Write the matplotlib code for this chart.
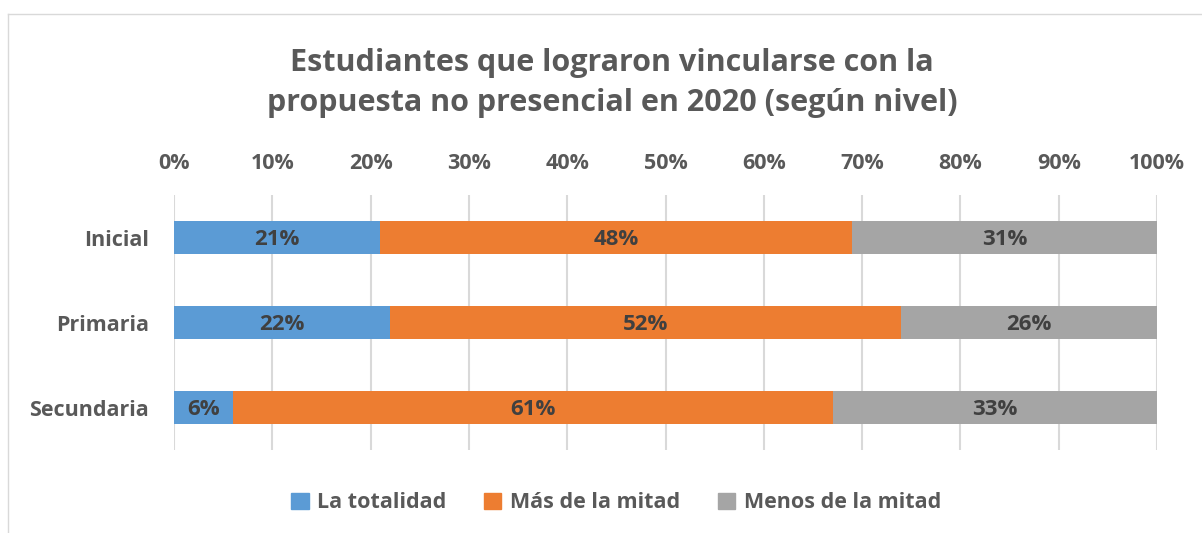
import numpy as np
import matplotlib.pyplot as plt
from matplotlib.lines import Line2D
from matplotlib.patches import Patch

plt.rcParams['font.family'] = ['Open Sans', 'DejaVu Sans']

# data
niveles = ['Inicial', 'Primaria', 'Secundaria']
series = ['La totalidad', 'Más de la mitad', 'Menos de la mitad']
totalidad = [21, 22, 6]
mas_mitad = [48, 52, 61]
menos_mitad = [31, 26, 33]
colores = ['#5B9BD5', '#ED7D31', '#A5A5A5']

fig = plt.figure(figsize=(12.02, 5.33), dpi=100)
ax = fig.add_axes([174/1202, 1-450/533, (1157-174)/1202, (450-195)/533])

y = np.arange(len(niveles))
left = np.zeros(len(niveles))
for vals, name, col in zip([totalidad, mas_mitad, menos_mitad], series, colores):
    vals = np.array(vals, dtype=float)
    ax.barh(y, vals, left=left, height=0.39, color=col, label=name, zorder=3)
    for yi, l, v in zip(y, left, vals):
        ax.text(l + v/2, yi + 0.02, f'{int(v)}%', ha='center', va='center',
                fontsize=16, fontweight='bold', color='#404040', zorder=4)
    left += vals

ax.set_xlim(0, 100)
ax.set_ylim(2.5, -0.5)
ax.set_xticks(np.arange(0, 101, 10))
ax.set_xticklabels([f'{t}%' for t in range(0, 101, 10)])
ax.xaxis.tick_top()
ax.tick_params(axis='x', length=0, pad=15, labelsize=15.5, labelcolor='#595959')
ax.tick_params(axis='y', length=0, pad=18, labelsize=15.5, labelcolor='#595959')
for lab in ax.get_xticklabels() + ax.get_yticklabels():
    lab.set_fontweight('bold')
ax.set_yticks(y)
ax.set_yticklabels(niveles)
ax.grid(axis='x', color='#D9D9D9', linewidth=1.5, zorder=0)
for s in ax.spines.values():
    s.set_visible(False)

fig.text(0.509, 1-83/533, 'Estudiantes que lograron vincularse con la\npropuesta no presencial en 2020 (según nivel)',
         ha='center', va='center', fontsize=22, fontweight='bold', color='#595959', linespacing=1.45)

handles = [Patch(color=c) for c in colores]
fig.legend(handles, series, loc='center', bbox_to_anchor=(0.5125, 1-503/533), ncol=3, frameon=False,
           prop={'size': 15.5, 'weight': 'bold'}, labelcolor='#595959',
           handlelength=0.8, handleheight=0.8, handletextpad=0.4, columnspacing=1.75)

# outer border (cropped chart frame)
fig.add_artist(Line2D([8/1202, 1], [1-14/533, 1-14/533], color='#D9D9D9', lw=1))
fig.add_artist(Line2D([8/1202, 8/1202], [0, 1-14/533], color='#D9D9D9', lw=1))

fig.savefig('out.png', dpi=100)
